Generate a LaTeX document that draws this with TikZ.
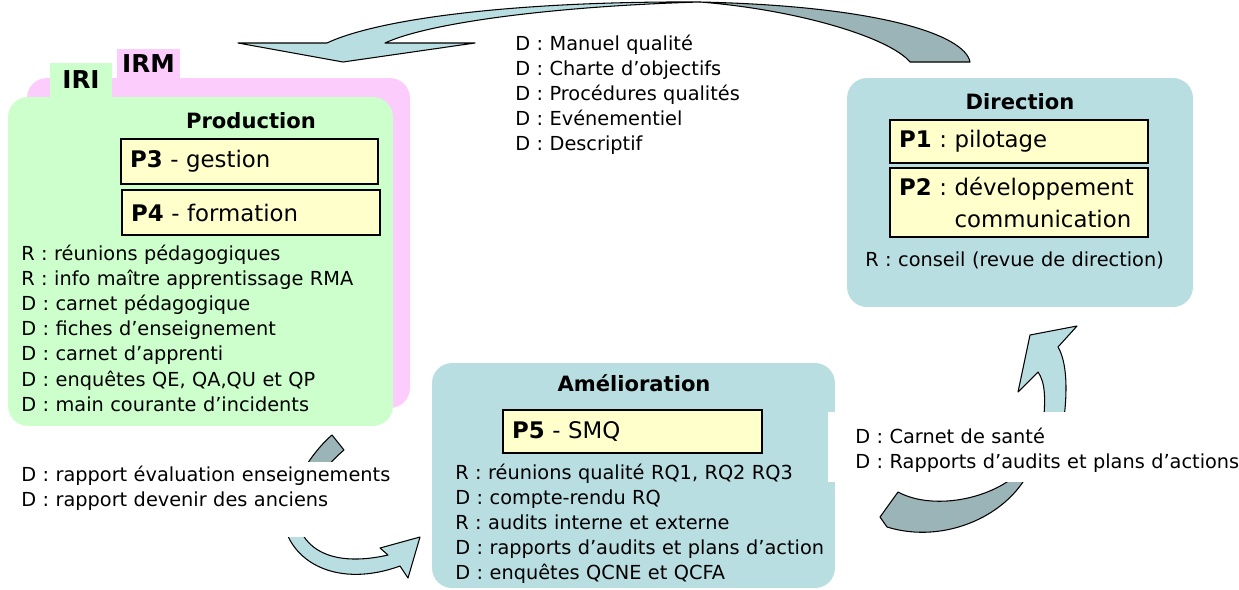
\documentclass[tikz,border=0pt]{standalone}
\usepackage{fontspec}
\setmainfont{DejaVu Sans}
\frenchspacing

\definecolor{prodgreen}{HTML}{CCFFCC}
\definecolor{irmpink}{HTML}{FCCCFC}
\definecolor{boxblue}{HTML}{B9DEE2}
\definecolor{procyellow}{HTML}{FFFFCC}
\definecolor{arrowlightc}{HTML}{B9DEE2}
\definecolor{arrowdarkc}{HTML}{9BB4B7}

\newcommand{\nohyphens}{\hyphenpenalty=10000\relax\frenchspacing}

\tikzset{
	bigbox/.style={rounded corners=0.4cm, inner sep=0pt},
	tabbox/.style={inner sep=0pt, font=\fontsize{14}{16}\selectfont\bfseries},
	pbox/.style={draw, line width=1pt, fill=procyellow, align=left, inner xsep=0.18cm, inner ysep=0pt, font=\fontsize{13}{18}\selectfont\nohyphens},
	listtext/.style={anchor=base west, inner sep=0pt, align=left, text width=9cm, font=\fontsize{11}{14.35}\selectfont\nohyphens},
	titletext/.style={anchor=base, inner sep=0pt, font=\fontsize{12}{14}\selectfont\bfseries},
	arrowlight/.style={fill=arrowlightc, draw=black, line width=0.6pt, line join=round},
	arrowdark/.style={fill=arrowdarkc, draw=black, line width=0.6pt, line join=round},
}

\begin{document}
\begin{tikzpicture}[x=0.02cm, y=-0.02cm]
		\useasboundingbox (0,0) rectangle (1239,589);
		% Curved arrows:
		\draw[arrowlight] (238,43) -- (343,62) -- (475,43) -- (385,43) .. controls (430,22) and (560,6) .. (700,2) .. controls (520,1) and (380,18) .. (327,43) -- cycle;
		\draw[arrowdark] (700,2) .. controls (880,6) and (965,35) .. (970,62) -- (910,62) .. controls (890,38) and (800,10) .. (700,2) -- cycle;
		\draw[arrowdark] (332,435) -- (344,450) .. controls (330,462) and (322,472) .. (316,485) -- (295,485) .. controls (305,465) and (318,447) .. (332,435) -- cycle;
		\draw[arrowlight] (282,515) .. controls (288,565) and (340,588) .. (400,566) -- (408,578) -- (420,537) -- (380,548) -- (388,555) .. controls (340,566) and (302,555) .. (296,515) -- cycle;
		\draw[arrowlight] (1018,392) -- (1030,335) -- (1077,326) -- (1058,347) .. controls (1067,362) and (1068,392) .. (1063,425) -- (1043,425) .. controls (1046,398) and (1045,382) .. (1038,372) -- cycle;
		\draw[arrowdark] (880,517) -- (898,492) .. controls (935,512) and (1000,498) .. (1026,465) -- (1032,465) .. controls (1012,515) and (945,545) .. (887,527) -- cycle;
		% Boxes:
		\node[bigbox, fill=irmpink, minimum width=7.66cm, minimum height=6.6cm] (irmbox) at (218.5,243){};
		\node[tabbox, fill=irmpink, minimum width=1.26cm, minimum height=0.58cm] (irmtab) at (148.5,63.5){IRM};
		\node[bigbox, fill=prodgreen, minimum width=7.7cm, minimum height=6.58cm] (prodbox) at (200.5,261.5){};
		\node[tabbox, fill=prodgreen, minimum width=1.24cm, minimum height=0.68cm] (iritab) at (81,80){IRI};
		\node[bigbox, fill=boxblue, minimum width=6.92cm, minimum height=4.58cm] (dirbox) at (1020,192.5){};
		\node[bigbox, fill=boxblue, minimum width=8.06cm, minimum height=4.5cm] (amelbox) at (633.5,475.5){};
		\fill[white] (12,462) rectangle (392,537);
		\fill[white] (828,412) rectangle (1239,482);
		% Titles and processes:
		\node[titletext] (prodtitle) at (251,128){Production};
		\node[pbox, text width=4.78cm, minimum height=0.9cm] (p3) at (249.5,161.5){\textbf{P3} - gestion};
		\node[pbox, text width=4.8cm, minimum height=0.9cm] (p4) at (251,212.5){\textbf{P4} - formation};
		\node[titletext] (dirtitle) at (1020,109){Direction};
		\node[pbox, text width=4.8cm, minimum height=0.86cm] (p1) at (1019,141.5){\textbf{P1} : pilotage};
		\node[pbox, text width=4.8cm, minimum height=1.38cm] (p2) at (1019,202.5){\textbf{P2} : développement\\\hphantom{\textbf{P2} : }communication};
		\node[titletext] (ameltitle) at (634,391){Amélioration};
		\node[pbox, text width=4.82cm, minimum height=0.86cm] (p5) at (632.5,431.5){\textbf{P5} - SMQ};
		% Lists:
		\node[listtext] (toplist) at (515,50){D : Manuel qualité\\D : Charte d’objectifs\\D : Procédures qualités\\D : Evénementiel\\D : Descriptif};
		\node[listtext] (prodlist) at (21,260){R : réunions pédagogiques\\R : info maître apprentissage RMA\\D : carnet pédagogique\\D : fiches d’enseignement\\D : carnet d’apprenti\\D : enquêtes QE, QA,QU et QP\\D : main courante d’incidents};
		\node[listtext] (leftlist) at (21,481){D : rapport évaluation enseignements\\D : rapport devenir des anciens};
		\node[listtext] (dirlist) at (865,266){R : conseil (revue de direction)};
		\node[listtext] (rightlist) at (855,443){D : Carnet de santé\\D : Rapports d’audits et plans d’actions};
		\node[listtext] (amellist) at (455,479){R : réunions qualité RQ1, RQ2 RQ3\\D : compte-rendu RQ\\R : audits interne et externe\\D : rapports d’audits et plans d’action\\D : enquêtes QCNE et QCFA};
	\end{tikzpicture}
\end{document}
